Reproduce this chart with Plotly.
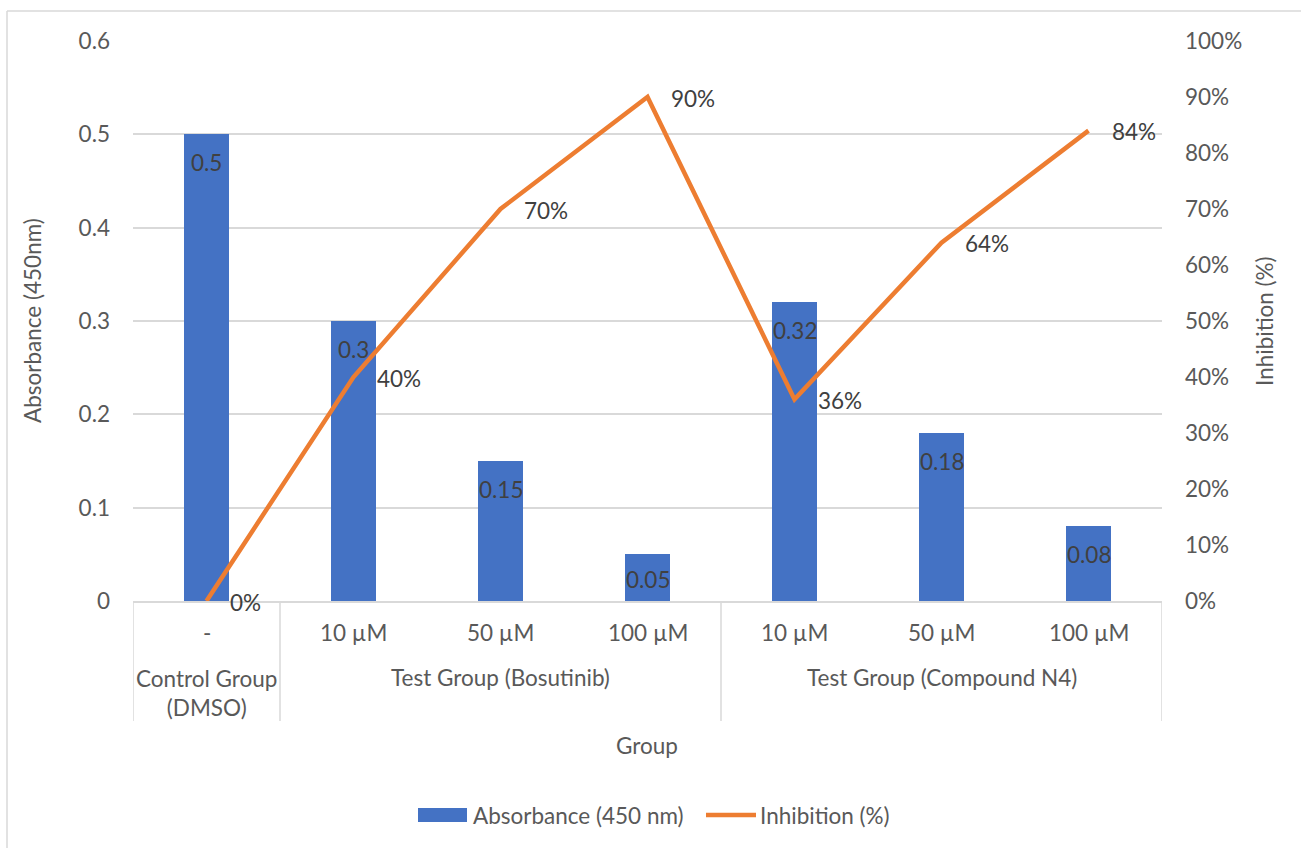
import plotly.graph_objects as go

# Data
dose_labels = ["-", "10 µM", "50 µM", "100 µM", "10 µM", "50 µM", "100 µM"]
group_labels = ["Control Group<br>(DMSO)", "Test Group (Bosutinib)", "Test Group (Compound N4)"]
group_spans = [(0, 0), (1, 3), (4, 6)]
absorbance = [0.5, 0.3, 0.15, 0.05, 0.32, 0.18, 0.08]
inhibition = [0, 40, 70, 90, 36, 64, 84]

BLUE = "#4472C4"
ORANGE = "#ED7D31"
GRID = "#D9D9D9"
TXT = "#595959"
LBL = "#404040"
FONT = "Lato"
FS = 22.5

W, H = 1301, 848
L, R, T, B = 133, 1162, 41, 601  # plot area in pixels


def px(x):
    return (x - L) / (R - L)


def py(y):
    return (B - y) / (B - T)


def note(x, y, text, xref="paper", yref="paper", xanchor="center", color=TXT, **kw):
    return dict(x=x, y=y, xref=xref, yref=yref, text=text, showarrow=False,
                xanchor=xanchor, yanchor="middle",
                font=dict(family=FONT, size=FS, color=color), **kw)


xs = list(range(len(dose_labels)))

fig = go.Figure()
fig.add_trace(go.Bar(
    x=xs, y=absorbance, width=0.31, marker=dict(color=BLUE, line=dict(width=0)),
    name="Absorbance (450 nm)", showlegend=False, hoverinfo="y"))
fig.add_trace(go.Scatter(
    x=xs, y=inhibition, yaxis="y2", mode="lines",
    line=dict(color=ORANGE, width=4.5), name="Inhibition (%)", showlegend=False))

annotations = []
shapes = []

# bar value labels (inside end)
ypx_per_unit = (B - T) / 0.6
for i, v in enumerate(absorbance):
    bar_h = v * ypx_per_unit
    shift = min(28, bar_h / 2 + 2)
    annotations.append(note(i, v, f"{v:g}", xref="x", yref="y", color=LBL, yshift=-shift))

# line value labels (right of points)
for i, v in enumerate(inhibition):
    annotations.append(note(i, v, f"{v}%", xref="x", yref="y2", xanchor="left", color=LBL,
                            xshift=21, yshift=-1))

# category axis: dose row, group row, separators
for i, lab in enumerate(dose_labels):
    annotations.append(note(i, py(632), lab, xref="x"))
for (a, b), lab in zip(group_spans, group_labels):
    yc = 693 if "<br>" in lab else 677
    annotations.append(note((a + b) / 2, py(yc), lab, xref="x"))
for xb in [-0.5, 0.5, 3.5, 6.5]:
    shapes.append(dict(type="line", xref="x", yref="paper", x0=xb, x1=xb, y0=py(B), y1=py(721),
                       line=dict(color=GRID, width=1.5)))

# axis titles
annotations.append(note(px(647), py(745), "Group"))
annotations.append(note(px(32), py(321), "Absorbance (450nm)", textangle=-90))
annotations.append(note(px(1264), py(321), "Inhibition (%)", textangle=-90))

# legend
shapes.append(dict(type="rect", xref="paper", yref="paper", x0=px(418), x1=px(467),
                   y0=py(822), y1=py(808), fillcolor=BLUE, line=dict(width=0)))
annotations.append(note(px(471), py(815), "Absorbance (450 nm)", xanchor="left"))
shapes.append(dict(type="line", xref="paper", yref="paper", x0=px(706), x1=px(756),
                   y0=py(815), y1=py(815), line=dict(color=ORANGE, width=4.5)))
annotations.append(note(px(758), py(815), "Inhibition (%)", xanchor="left"))

# chart frame
shapes.append(dict(type="line", xref="paper", yref="paper", x0=px(7), x1=px(1305),
                   y0=py(11), y1=py(11), line=dict(color=GRID, width=1.5)))
shapes.append(dict(type="line", xref="paper", yref="paper", x0=px(7), x1=px(7),
                   y0=py(11), y1=py(860), line=dict(color=GRID, width=1.5)))

fig.update_layout(
    width=W, height=H,
    margin=dict(l=L, r=W - R, t=T, b=H - B, pad=0),
    paper_bgcolor="white", plot_bgcolor="white",
    font=dict(family=FONT, size=FS, color=TXT),
    bargap=0,
    xaxis=dict(range=[-0.5, 6.5], showticklabels=False, showgrid=False, zeroline=False,
               showline=True, linecolor=GRID, linewidth=1.5, ticks=""),
    yaxis=dict(range=[0, 0.6], dtick=0.1, tickformat="~g", showgrid=True, gridcolor=GRID,
               gridwidth=1.5, zeroline=False, showline=False, ticks="", ticklabelstandoff=22,
               tickfont=dict(family=FONT, size=FS, color=TXT)),
    yaxis2=dict(range=[0, 100], dtick=10, ticksuffix="%", overlaying="y", side="right",
                showgrid=False, zeroline=False, showline=False, ticks="", ticklabelstandoff=22,
                tickfont=dict(family=FONT, size=FS, color=TXT)),
    annotations=annotations, shapes=shapes, showlegend=False,
)

fig.write_html("out.html")
